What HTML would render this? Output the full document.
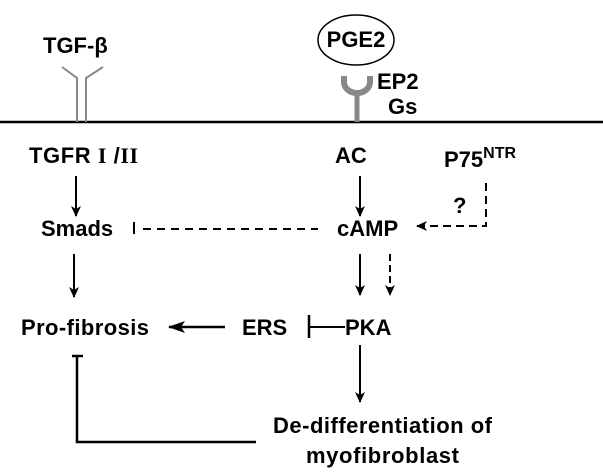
<!DOCTYPE html>
<html><head><meta charset="utf-8"><style>
html,body{margin:0;padding:0;background:#fff;width:603px;height:472px;overflow:hidden}
svg text{font-family:"Liberation Sans",Arial,sans-serif;font-weight:bold;font-size:22px;fill:#000}
</style></head><body>
<svg width="603" height="472" viewBox="0 0 603 472" xmlns="http://www.w3.org/2000/svg">
<defs>
<marker id="a" markerWidth="12" markerHeight="12" refX="10" refY="6" orient="auto" markerUnits="userSpaceOnUse">
<path d="M0,1 L11,6 L0,11 L3,6 Z" fill="#000"/></marker>
<marker id="b" markerWidth="18" markerHeight="14" refX="16" refY="7" orient="auto" markerUnits="userSpaceOnUse">
<path d="M0,1 L17,7 L0,13 L4,7 Z" fill="#000"/></marker>
</defs>
<line x1="0" y1="122" x2="603" y2="122" stroke="#000" stroke-width="2.5"/>
<text x="43" y="53" font-size="21">TGF-β</text>
<g stroke="#888" stroke-width="2" fill="none">
<path d="M77,122 V78 L62,67"/><path d="M86,122 V78 L103,67"/>
</g>
<ellipse cx="356" cy="40" rx="38" ry="25" fill="none" stroke="#000" stroke-width="1.5"/>
<text x="356" y="47" text-anchor="middle" font-size="20">PGE2</text>
<path d="M344,76 V82 A13,11 0 0 0 370,82 V76" fill="none" stroke="#888" stroke-width="6"/>
<line x1="357" y1="92" x2="357" y2="122" stroke="#888" stroke-width="5"/>
<text x="377" y="89" font-size="20">EP2</text>
<text x="388" y="114" font-size="20">Gs</text>
<text x="29" y="163" textLength="109">TGFR <tspan font-family="Liberation Serif,serif">I</tspan> /<tspan font-family="Liberation Serif,serif">II</tspan></text>
<text x="335" y="163">AC</text>
<text x="444" y="167">P75<tspan font-size="16" dy="-9">NTR</tspan></text>
<line x1="76" y1="176" x2="76" y2="216" stroke="#000" stroke-width="2" marker-end="url(#a)"/>
<line x1="360" y1="176" x2="360" y2="216" stroke="#000" stroke-width="2" marker-end="url(#a)"/>
<text x="41" y="236">Smads</text>
<text x="337" y="236">cAMP</text>
<line x1="134" y1="222" x2="134" y2="234" stroke="#000" stroke-width="2"/>
<line x1="143" y1="229" x2="318" y2="229" stroke="#000" stroke-width="2" stroke-dasharray="8,6"/>
<path d="M486,183 V226 H417" fill="none" stroke="#000" stroke-width="2" stroke-dasharray="8,5" marker-end="url(#a)"/>
<text x="453" y="213" font-size="18">?</text>
<line x1="74" y1="254" x2="74" y2="297" stroke="#000" stroke-width="2" marker-end="url(#a)"/>
<line x1="360" y1="254" x2="360" y2="295" stroke="#000" stroke-width="2" marker-end="url(#a)"/>
<line x1="390" y1="254" x2="390" y2="295" stroke="#000" stroke-width="2" stroke-dasharray="7,4" marker-end="url(#a)"/>
<text x="21" y="335" textLength="128">Pro-fibrosis</text>
<text x="242" y="335">ERS</text>
<text x="345" y="335">PKA</text>
<line x1="225" y1="327" x2="169" y2="327" stroke="#000" stroke-width="2.5" marker-end="url(#b)"/>
<line x1="309" y1="315" x2="309" y2="338" stroke="#000" stroke-width="2.5"/>
<line x1="309" y1="327" x2="345" y2="327" stroke="#000" stroke-width="2"/>
<line x1="360" y1="345" x2="360" y2="402" stroke="#000" stroke-width="2" marker-end="url(#a)"/>
<path d="M72,356 H83 M77,356 V442 H256" fill="none" stroke="#000" stroke-width="2.5"/>
<text x="273" y="433" textLength="219">De-differentiation of</text>
<text x="306" y="463" textLength="153">myofibroblast</text>
</svg>
</body></html>
